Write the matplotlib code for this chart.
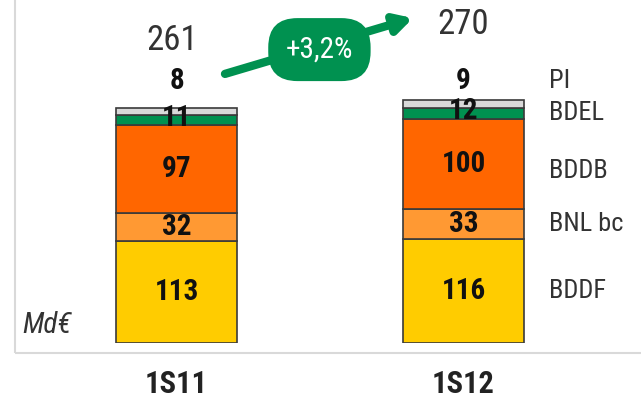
import numpy as np
import matplotlib.pyplot as plt
from matplotlib.patches import Rectangle

# data
periods = ["1S11", "1S12"]
segments = ["BDDF", "BNL bc", "BDDB", "BDEL", "PI"]
values = {
    "BDDF": [113, 116],
    "BNL bc": [32, 33],
    "BDDB": [97, 100],
    "BDEL": [11, 12],
    "PI": [8, 9],
}
totals = [261, 270]
growth_label = "+3,2%"
unit_label = "Md€"

colors = {
    "BDDF": "#FFCC00",
    "BNL bc": "#FF9933",
    "BDDB": "#FF6600",
    "BDEL": "#009150",
    "PI": "#D9D9D9",
}

plt.rcParams['font.family'] = ['Roboto Condensed', 'Archivo Narrow', 'DejaVu Sans']

W, H = 641, 400
fig = plt.figure(figsize=(W / 100, H / 100), dpi=100)

# axes mapped so that baseline is at y=343 px and 0.9 px per unit
base_px = 343
px_per_unit = 0.9
ymax = 300
ax_h = ymax * px_per_unit
ax = fig.add_axes([0, (H - base_px) / H, 1, ax_h / H])
x0_px, dx_px = 176.5, 287
ax.set_xlim(-x0_px / dx_px, (W - x0_px) / dx_px)
ax.set_ylim(0, ymax)
ax.axis("off")

# light frame
fig.patches.append(Rectangle((15 / W, (H - 353) / H), 1.0, 1.0, transform=fig.transFigure,
                             fill=False, edgecolor="#D9D9D9", linewidth=1.5, zorder=0))

x = np.arange(len(periods))
width = 121 / dx_px
bottom = np.zeros(len(periods))
for seg in segments:
    vals = np.array(values[seg])
    ax.bar(x, vals, width, bottom=bottom, color=colors[seg], edgecolor="#3A3A3A",
           linewidth=1.2, zorder=2)
    for i, v in enumerate(vals):
        if seg == "PI":
            ax.text(x[i], 291, str(v), ha="center", va="center", fontsize=21,
                    fontweight="bold", color="#111111", zorder=3, clip_on=False)
        else:
            yc = bottom[i] + v / 2 + (3 if seg == "BDEL" else 0)
            ax.text(x[i], yc, str(v), ha="center", va="center", fontsize=21,
                    fontweight="bold", color="#111111", zorder=3)
    # series label on the right of the last bar
    if seg == "PI":
        ly = 291
    else:
        ly = bottom[-1] + vals[-1] / 2
        if seg == "BDDB":
            ly -= 8
    ax.text(x[-1] + 0.5 * width + 25 / dx_px, ly, seg, ha="left", va="center",
            fontsize=19, color="#333333", clip_on=False)
    bottom += vals

# totals
total_offsets = [75, 84]
for i, t in enumerate(totals):
    ax.text(x[i] - (4 / dx_px if i == 0 else 0), t + total_offsets[i], str(t),
            ha="center", va="center", fontsize=25, color="#333333", clip_on=False)

# growth arrow
ax.annotate("", xy=(0.824, 361), xytext=(0.169, 299), xycoords="data",
            arrowprops=dict(arrowstyle="-|>,head_length=1.0,head_width=0.55",
                            color="#009150", lw=6, shrinkA=0, shrinkB=0),
            annotation_clip=False, zorder=4)
ax.text(0.498, 326, growth_label, ha="center", va="center", fontsize=21, color="white",
        zorder=5, clip_on=False,
        bbox=dict(boxstyle="round,pad=0.6,rounding_size=1.0", fc="#009150", ec="none"))

# unit label
ax.text(-130 / dx_px, 20, unit_label, ha="center", va="center", fontsize=21,
        style="italic", color="#333333")

# category labels
for i, p in enumerate(periods):
    ax.text(x[i], -46, p, ha="center", va="center", fontsize=22, fontweight="bold",
            color="#222222", clip_on=False)

fig.savefig("out.png", dpi=100)
